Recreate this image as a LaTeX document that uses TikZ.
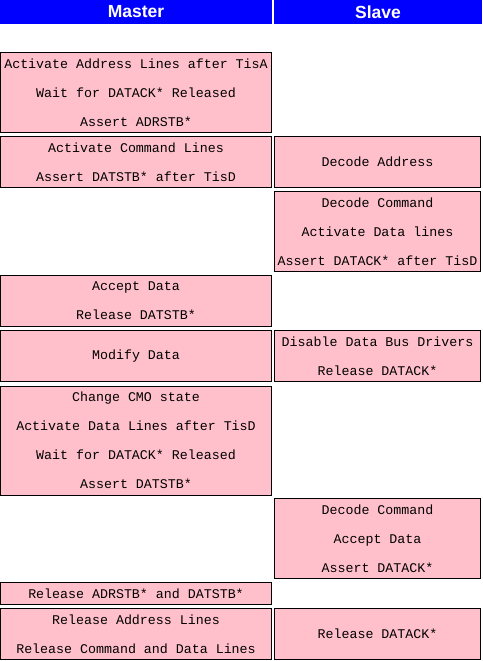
\documentclass[tikz,border=0pt]{standalone}
\usepackage{fontspec}
\setmainfont{Liberation Sans}
\newfontfamily\machine{Liberation Mono}
\usepackage{xcolor}
\usetikzlibrary{positioning}
\definecolor{bleuentete}{HTML}{0000FF}
\definecolor{rose}{HTML}{FFC0CB}
\tikzset{
  entete/.style={rectangle, fill=bleuentete, text=white, inner sep=0pt,
    minimum height=24pt, font=\fontsize{17.5}{20}\selectfont\bfseries},
  cellule/.style={rectangle, draw=black, line width=1pt, fill=rose, text=black,
    inner sep=0pt, align=center, font=\machine\fontsize{13.3}{29}\selectfont},
  maitre/.style={cellule, minimum width=271pt},
  esclave/.style={cellule, minimum width=206pt},
}

\begin{document}
\begin{tikzpicture}[x=1pt, y=-1pt]
    \useasboundingbox (0,0) rectangle (482,661);
    % En-tetes
    \node[entete, minimum width=272pt] (hm) at (136,12) {Master};
    \node[entete, minimum width=208pt] (hs) at (378,12) {Slave};
    % Colonne maitre
    \foreach \nom/\y/\h/\txt in {
        1/92.5/80/{Activate Address Lines after TisA\\ Wait for DATACK* Released\\ Assert ADRSTB*},
        2/162/51/{Activate Command Lines\\ Assert DATSTB* after TisD},
        3/301/51/{Accept Data\\ Release DATSTB*},
        4/356/51/{Modify Data},
        5/440.5/109/{Change CMO state\\ Activate Data Lines after TisD\\ Wait for DATACK* Released\\ Assert DATSTB*},
        6/593.5/22/{Release ADRSTB* and DATSTB*},
        7/634/51/{Release Address Lines\\ Release Command and Data Lines}} {
      \node[maitre, minimum height=\h pt] (m\nom) at (136,\y) {\txt};
    }
    % Colonne esclave
    \foreach \nom/\y/\h/\txt in {
        1/162/51/{Decode Address},
        2/231.5/80/{Decode Command\\ Activate Data lines\\ Assert DATACK* after TisD},
        3/356/51/{Disable Data Bus Drivers\\ Release DATACK*},
        4/538.5/80/{Decode Command\\ Accept Data\\ Assert DATACK*},
        5/634/51/{Release DATACK*}} {
      \node[esclave, minimum height=\h pt] (s\nom) at (377.5,\y) {\txt};
    }
\end{tikzpicture}
\end{document}
